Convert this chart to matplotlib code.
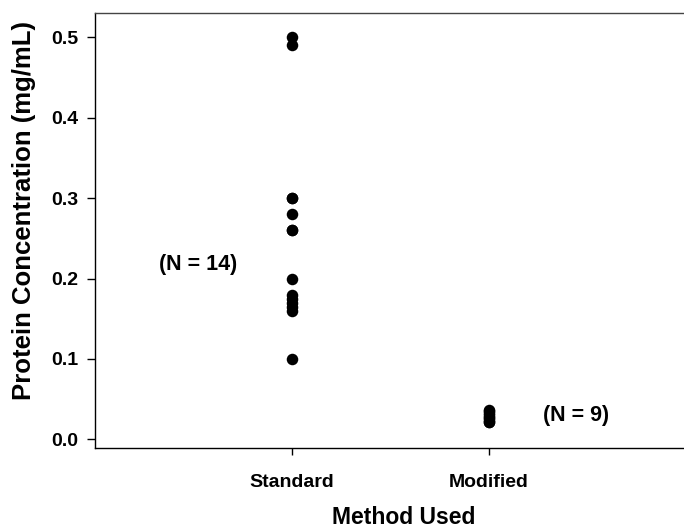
import matplotlib
matplotlib.use("Agg")
import matplotlib.pyplot as plt

categories = ["Standard", "Modified"]
standard_values = [0.50, 0.49, 0.30, 0.30, 0.28, 0.26, 0.26, 0.20, 0.18, 0.175, 0.17, 0.165, 0.16, 0.10]
modified_values = [0.037, 0.035, 0.033, 0.030, 0.028, 0.026, 0.024, 0.022, 0.021]
n_labels = ["(N = 14)", "(N = 9)"]
y_ticks = [0.0, 0.1, 0.2, 0.3, 0.4, 0.5]

plt.rcParams['font.family'] = ['Liberation Sans', 'DejaVu Sans']
plt.rcParams['font.weight'] = 'bold'

W, H = 684, 529
fig = plt.figure(figsize=(W / 100, H / 100), dpi=100)
ax = fig.add_axes([95 / W, 1 - 447.7 / H, (684 - 95) / W, (447.7 - 13.3) / H])

ax.plot([1] * len(standard_values), standard_values, 'o', color='black', markersize=8.3, markeredgewidth=0)
ax.plot([2] * len(modified_values), modified_values, 'o', color='black', markersize=8.3, markeredgewidth=0)

ax.set_xlim(0.0, 2.99)
ax.set_ylim(-0.0105, 0.530)
ax.set_xticks([1, 2])
ax.set_xticklabels(categories, fontsize=14, fontweight='bold')
ax.set_yticks(y_ticks)
ax.set_yticklabels([f"{v:.1f}" for v in y_ticks], fontsize=14, fontweight='bold')
ax.tick_params(axis='y', direction='out', length=6, width=1, pad=6)
ax.tick_params(axis='x', direction='out', length=5, width=1, pad=14)

ax.spines['right'].set_visible(False)
for s in ['left', 'bottom', 'top']:
    ax.spines[s].set_linewidth(1.0)
    ax.spines[s].set_color('black')
ax.spines['top'].set_color('#444444')

ax.text(0.525, 0.218, n_labels[0], fontsize=15.5, fontweight='bold', ha='center', va='center')
ax.text(2.44, 0.029, n_labels[1], fontsize=15.5, fontweight='bold', ha='center', va='center')

fig.text(404 / W, 1 - 524 / H, "Method Used", fontsize=16.5, fontweight='bold', ha='center', va='baseline')
fig.text(24 / W, 1 - 210 / H, "Protein Concentration (mg/mL)", fontsize=18.5, fontweight='bold',
         ha='center', va='center', rotation=90)

fig.savefig("out.png", dpi=100)
